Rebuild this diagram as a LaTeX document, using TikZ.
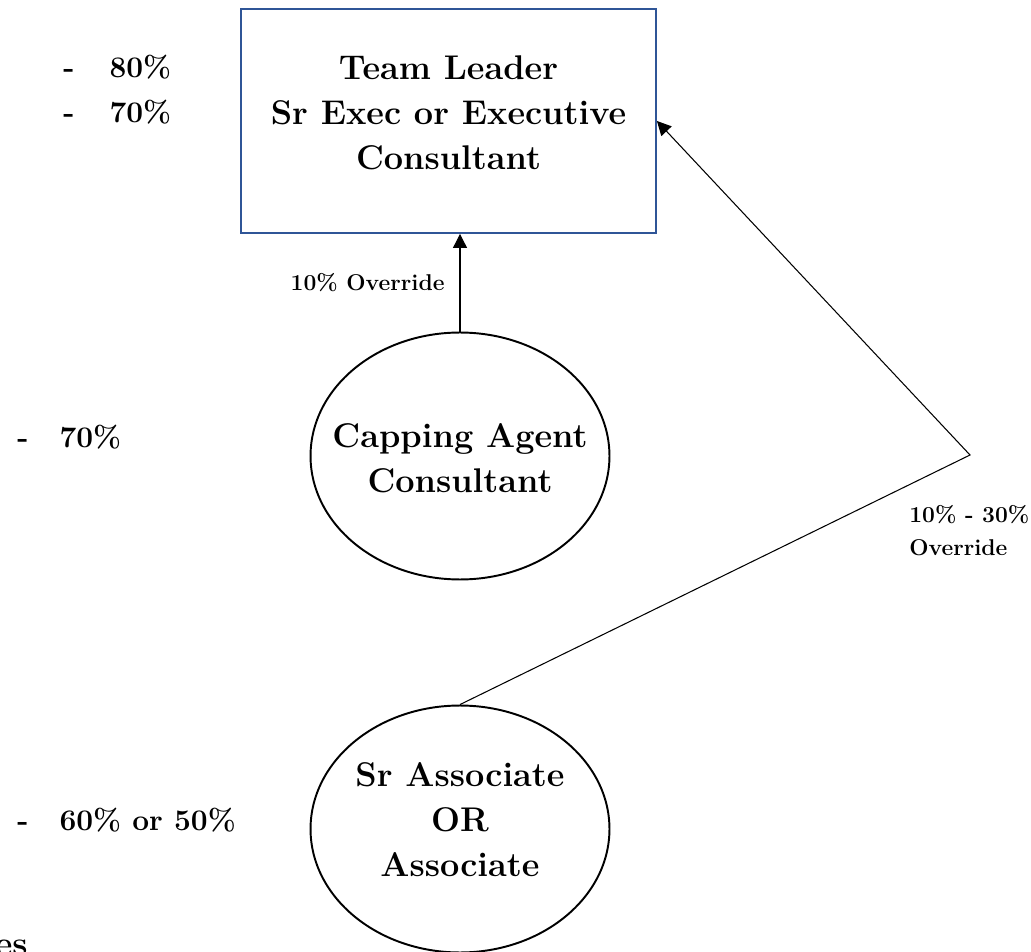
\documentclass[tikz,border=0pt]{standalone}
\usepackage{xcolor}
\usepackage{tikz}
\usetikzlibrary{shapes.geometric, arrows.meta}

\definecolor{leaderblue}{RGB}{47,85,151}

\begin{document}
\begin{tikzpicture}[x=0.02cm, y=-0.02cm,
  bigtext/.style={font=\bfseries\fontsize{19.5}{25.6}\selectfont, align=center, inner sep=0pt},
  smalltext/.style={font=\bfseries\fontsize{13}{19}\selectfont, inner sep=0pt},
  ratetext/.style={font=\bfseries\fontsize{17}{25.6}\selectfont, align=left, inner sep=0pt, anchor=west},
  leaderbox/.style={draw=leaderblue, line width=1.1pt, minimum width=8.3cm, minimum height=4.48cm, inner sep=0pt},
  agentoval/.style={draw, ellipse, line width=1.1pt, minimum width=5.98cm, minimum height=4.94cm, inner sep=0pt},
  override/.style={-{Triangle[width=8pt,length=8pt]}, line width=0.6pt}]

\useasboundingbox (0,0) rectangle (1031,952);

% ==== Team Leader box ====
\node[leaderbox] (leader) at (448.5,121) {};
\node[bigtext] (leadertext) at (448.5,113) {Team Leader\\Sr Exec or Executive\\Consultant};

% ==== Ovals ====
\node[agentoval] (capping) at (460,456) {};
\node[bigtext] (cappingtext) at (460,458) {Capping Agent\\Consultant};

\node[agentoval] (assoc) at (460,829) {};
\node[bigtext] (assoctext) at (460,820) {Sr Associate\\OR\\Associate};

% ==== Overrides ====
\draw[override] (capping.north) -- (capping.north |- leader.south)
  node[midway, left=0.3cm, smalltext] (shortlabel) {10\% Override};

\coordinate (bend) at (970,455);
\draw[override] (assoc.north) -- (bend) -- (leader.east);
\node[smalltext, align=left, anchor=north west] (rangelabel) at (909,505) {10\% - 30\%\\Override};

% ==== Rates ====
\node[ratetext] (toprates) at (63,90) {-\hspace{0.7cm}80\%\\-\hspace{0.7cm}70\%};
\node[ratetext] (cappingrate) at (17,437) {-\hspace{0.62cm}70\%};
\node[ratetext] (assocrate) at (17,820) {-\hspace{0.62cm}60\% or 50\%};
\node[bigtext, anchor=base east] (cutnote) at (28,955) {es};

\end{tikzpicture}
\end{document}
